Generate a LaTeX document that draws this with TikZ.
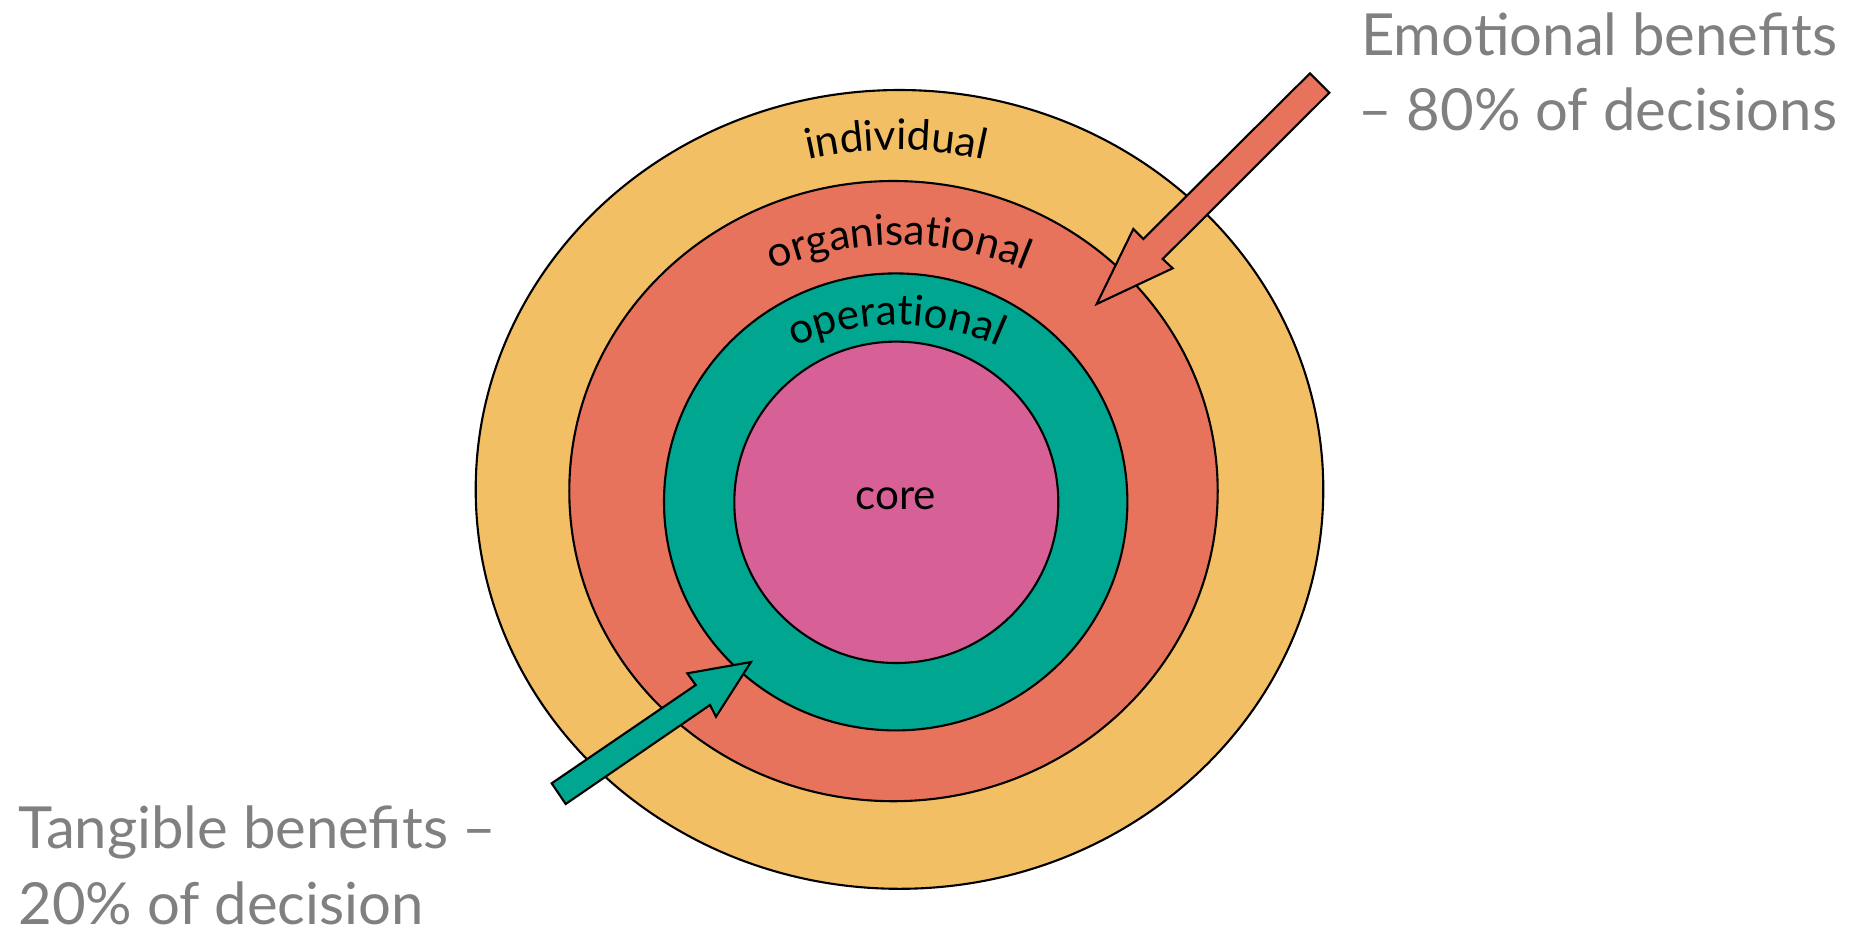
\documentclass[tikz,border=0pt]{standalone}
\usepackage{fontspec}
\setmainfont{Lato}
\usetikzlibrary{decorations.text}
\definecolor{ringyellow}{HTML}{F3BF65}
\definecolor{ringred}{HTML}{E8735C}
\definecolor{ringteal}{HTML}{00A68F}
\definecolor{ringpink}{HTML}{D76196}
\definecolor{notegrey}{HTML}{808080}
\newcommand\ringfont{\fontsize{12pt}{14pt}\selectfont}
\begin{document}
\begin{tikzpicture}[x=0.01cm, y=-0.01cm,
  ring/.style={draw, line width=0.6pt},
  ringlabel/.style={decorate, decoration={text along path, text={|\ringfont|#1}, text align=center}},
  note/.style={inner sep=0pt, text=notegrey, font=\fontsize{16.5pt}{20pt}\selectfont},
  benefitarrow/.style={draw, line width=0.6pt, line join=miter}]
\useasboundingbox (0,0) rectangle (1853,929);
\draw[ring, fill=ringyellow] (899.5,489.4) ellipse [x radius=423.8, y radius=399.4];
\draw[ring, fill=ringred] (893.5,491.1) ellipse [x radius=324.2, y radius=310.1];
\draw[ring, fill=ringteal] (895.7,501.9) ellipse [x radius=231.7, y radius=228.5];
\draw[ring, fill=ringpink] (896.3,502.3) ellipse [x radius=162, y radius=160.7];
\path[ringlabel={individual}] (896,550) ++(250:400) arc[start angle=250, end angle=290, radius=400];
\path[ringlabel={organisational}] (899,575) ++(240:330) arc[start angle=240, end angle=300, radius=330];
\path[ringlabel={operational}] (896.5,575) ++(238:250) arc[start angle=238, end angle=302, radius=250];
\node[inner sep=0pt, font=\ringfont, anchor=base] (core) at (895.8,509.3) {core};
\draw[benefitarrow, fill=ringred] (1310,73.3) -- (1329.3,92.7) -- (1162.7,259) -- (1172.7,268.3) -- (1096.7,304) -- (1133.3,229) -- (1143.3,239) -- cycle;
\draw[benefitarrow, fill=ringteal] (551.7,783.3) -- (695.7,685) -- (687.3,673.3) -- (751,662) -- (716,716.7) -- (710,705) -- (565.7,804) -- cycle;
\node[note, anchor=base east] (emo1) at (1838,55.5) {Emotional benefits};
\node[note, anchor=base east] (emo2) at (1838,130) {– 80\% of decisions};
\node[note, anchor=base west] (tan1) at (17.7,848.5) {Tangible benefits –};
\node[note, anchor=base west] (tan2) at (17.7,924) {20\% of decision};
\end{tikzpicture}
\end{document}
